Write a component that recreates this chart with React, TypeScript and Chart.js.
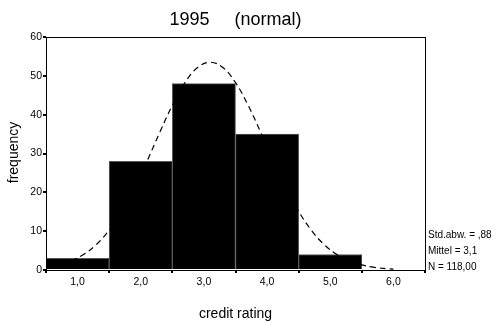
import { useEffect, useRef } from 'react';
import { Chart, registerables } from 'chart.js';

Chart.register(...registerables);

const titleText = '1995     (normal)';
const xAxisTitle = 'credit rating';
const yAxisTitle = 'frequency';
const binCenters = [1, 2, 3, 4, 5];
const frequencies = [3, 28, 48, 35, 4];
const curveX = [0.9, 1.1, 1.3, 1.5, 1.7, 1.9, 2.1, 2.3, 2.5, 2.7, 2.9, 3.1, 3.3, 3.5, 3.7, 3.9, 4.1, 4.3, 4.5, 4.7, 4.9, 5.1, 5.3, 5.5, 5.7, 5.9, 6.0];
const curveY = [2.35, 4.04, 6.6, 10.25, 15.09, 21.11, 28.05, 35.39, 42.41, 48.25, 52.14, 53.5, 52.14, 48.25, 42.41, 35.39, 28.05, 21.11, 15.09, 10.25, 6.6, 4.04, 2.35, 1.3, 0.68, 0.34, 0.23];
const xTicks = [1, 2, 3, 4, 5, 6];
const statsLines = ['Std.abw. = ,88', 'Mittel = 3,1', 'N = 118,00'];

const FONT = '"Liberation Sans", Arial, sans-serif';

const textPlugin = {
  id: 'texts',
  afterDraw(chart: any) {
    const { ctx, chartArea } = chart;
    const cx = (chartArea.left + chartArea.right) / 2;
    const cy = (chartArea.top + chartArea.bottom) / 2;
    ctx.save();
    ctx.fillStyle = '#000';
    ctx.textBaseline = 'alphabetic';
    ctx.textAlign = 'center';
    ctx.font = `18px ${FONT}`;
    ctx.fillText(titleText, cx, 25);
    ctx.font = `14px ${FONT}`;
    ctx.fillText(xAxisTitle, cx, 318);
    ctx.save();
    ctx.translate(18, cy - 1);
    ctx.rotate(-Math.PI / 2);
    ctx.fillText(yAxisTitle, 0, 0);
    ctx.restore();
    ctx.textAlign = 'left';
    ctx.font = `10px ${FONT}`;
    const baselines = [238, 254, 270];
    statsLines.forEach((s, i) => ctx.fillText(s, chartArea.right + 3, baselines[i]));
    ctx.strokeStyle = '#000';
    ctx.lineWidth = 1;
    ctx.strokeRect(Math.round(chartArea.left) + 0.5, Math.round(chartArea.top) + 0.5,
      Math.round(chartArea.right - chartArea.left), Math.round(chartArea.bottom - chartArea.top));
    ctx.restore();
  },
};

export default function App() {
  const ref = useRef<HTMLCanvasElement>(null);
  useEffect(() => {
    if (!ref.current) return;
    const chart = new Chart(ref.current, {
      type: 'bar',
      data: {
        datasets: [
          {
            type: 'line',
            data: curveX.map((x, i) => ({ x, y: curveY[i] })),
            borderColor: '#000',
            borderWidth: 1.2,
            borderDash: [6, 4],
            pointRadius: 0,
            tension: 0.4,
            fill: false,
            order: 0,
          } as any,
          {
            type: 'bar',
            data: binCenters.map((x, i) => ({ x, y: frequencies[i] })),
            backgroundColor: '#000',
            borderColor: '#5a5a5a',
            borderWidth: 1,
            barPercentage: 1,
            categoryPercentage: 1,
            order: 1,
          } as any,
        ],
      },
      options: {
        responsive: false,
        animation: false,
        layout: { padding: { left: 0, top: 37, right: 71, bottom: 0 } },
        plugins: { legend: { display: false }, title: { display: false }, tooltip: { enabled: false } },
        scales: {
          x: {
            type: 'linear',
            min: 0.5,
            max: 6.5,
            offset: false,
            afterBuildTicks: (scale: any) => {
              scale.ticks = xTicks.map((v) => ({ value: v }));
            },
            afterFit: (scale: any) => {
              scale.height = 54;
            },
            ticks: {
              color: '#000',
              font: { size: 10.5, family: FONT },
              padding: 3,
              maxRotation: 0,
              callback: (v: any) => Number(v).toFixed(1).replace('.', ','),
            },
            grid: { drawOnChartArea: false, drawTicks: true, tickLength: 3, color: '#000', lineWidth: 2 },
            border: { display: true, color: '#000', width: 1 },
          },
          y: {
            min: 0,
            max: 60,
            afterFit: (scale: any) => {
              scale.width = 46;
            },
            ticks: { stepSize: 10, color: '#000', font: { size: 10.5, family: FONT }, padding: 1 },
            grid: { drawOnChartArea: false, drawTicks: true, tickLength: 3, color: '#000', lineWidth: 2 },
            border: { display: true, color: '#000', width: 1 },
          },
        },
      },
      plugins: [textPlugin],
    });
    return () => chart.destroy();
  }, []);
  return (
    <canvas
      ref={ref}
      width={496}
      height={324}
      style={{ position: 'absolute', left: 0, top: 0, width: 496, height: 324 }}
    />
  );
}
